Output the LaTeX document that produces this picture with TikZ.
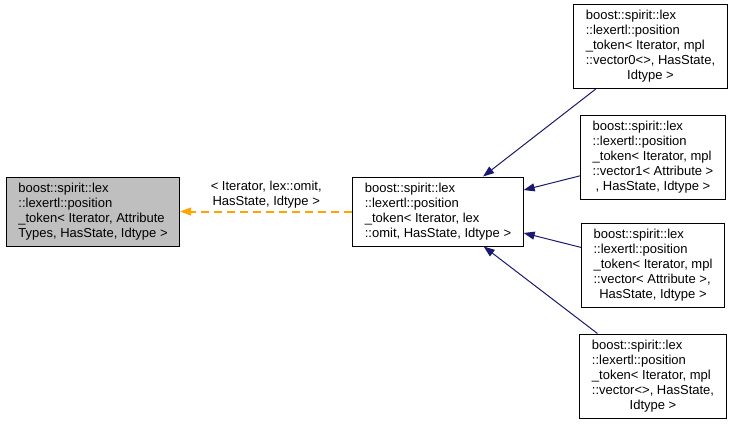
\documentclass[tikz,border=0pt]{standalone}
\usepackage{fontspec}
\setmainfont{Liberation Sans}
\usetikzlibrary{arrows.meta}

\definecolor{edgeblue}{RGB}{25,25,112}
\definecolor{edgeorange}{RGB}{255,165,0}
\definecolor{basegray}{RGB}{191,191,191}
\newcommand{\classlines}[2]{\begin{tabular}{@{}l@{}}#1\\\multicolumn{1}{@{}c@{}}{#2}\end{tabular}}

\begin{document}
\begin{tikzpicture}[x=1pt, y=-1pt, line width=1pt,
		font=\fontsize{13}{15}\selectfont,
		cls/.style={draw, fill=white, inner xsep=12pt, inner ysep=4.5pt},
		inherit/.style={draw=edgeblue, line width=1pt, -{Triangle[length=11pt, width=8pt]}},
		templ/.style={draw=edgeorange, line width=2pt, dashed, dash pattern=on 8pt off 5pt, -{Triangle[length=11pt, width=8pt, line width=1pt]}}]
		\useasboundingbox (0,0) rectangle (736,424);

		\node[cls, fill=basegray] (base) at (93, 211.5) {\classlines{boost::spirit::lex\\::lexertl::position\\\_token< Iterator, Attribute}{Types, HasState, Idtype >}};
		\node[cls] (omit) at (438, 211.5) {\classlines{boost::spirit::lex\\::lexertl::position\\\_token< Iterator, lex}{::omit, HasState, Idtype >}};
		\node[cls] (vec0) at (650.5, 46.5) {\classlines{boost::spirit::lex\\::lexertl::position\\\_token< Iterator, mpl\\::vector0<>, HasState,}{Idtype >}};
		\node[cls] (vec1) at (653, 157.5) {\classlines{boost::spirit::lex\\::lexertl::position\\\_token< Iterator, mpl\\::vector1< Attribute >}{, HasState, Idtype >}};
		\node[cls] (vecattr) at (653, 265.5) {\classlines{boost::spirit::lex\\::lexertl::position\\\_token< Iterator, mpl\\::vector< Attribute >,}{HasState, Idtype >}};
		\node[cls] (vecempty) at (653, 376) {\classlines{boost::spirit::lex\\::lexertl::position\\\_token< Iterator, mpl\\::vector<>, HasState,}{Idtype >}};

		\path (vec0) edge[inherit] (omit)
			(vec1) edge[inherit] (omit)
			(vecattr) edge[inherit] (omit)
			(vecempty) edge[inherit] (omit);
		\draw[templ] (omit) -- node[above, align=center, inner sep=2pt] {< Iterator, lex::omit,\\HasState, Idtype >} (base);
	\end{tikzpicture}
\end{document}
